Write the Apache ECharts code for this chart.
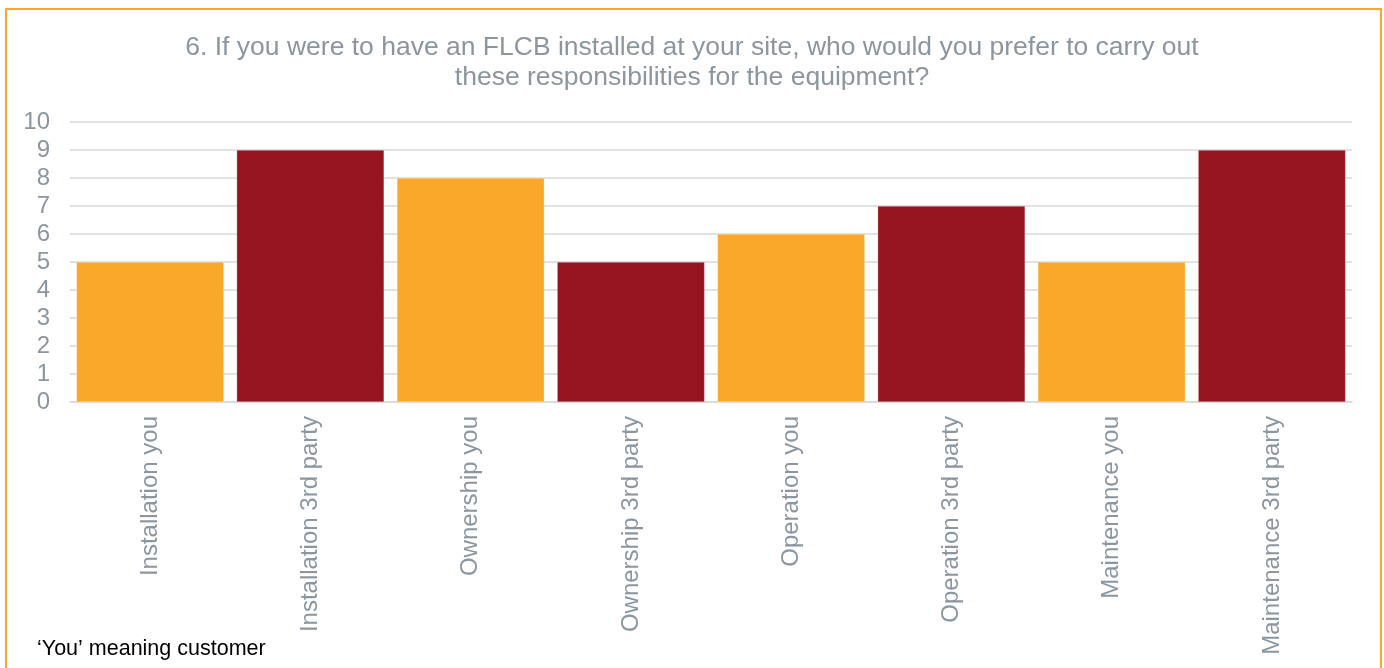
<!DOCTYPE html>
<html>
<head>
<meta charset="utf-8">
<script src="https://cdn.jsdelivr.net/npm/echarts@6/dist/echarts.min.js"></script>
<style>
  html, body { margin: 0; padding: 0; background: #fff; }
  #frame { position: absolute; left: 5px; top: 8px; width: 1377px; height: 680px;
           border: 2px solid #F9A82A; box-sizing: border-box; }
  #chart { position: absolute; left: 0; top: 0; width: 1384px; height: 668px; }
</style>
</head>
<body>
<div id="frame"></div>
<div id="chart"></div>
<script>
const categories = [
  'Installation you', 'Installation 3rd party',
  'Ownership you', 'Ownership 3rd party',
  'Operation you', 'Operation 3rd party',
  'Maintenance you', 'Maintenance 3rd party'
];
const counts = [5, 9, 8, 5, 6, 7, 5, 9];
const barColors = ['#F9A82A', '#95141F'];
const yTicks = [0, 1, 2, 3, 4, 5, 6, 7, 8, 9, 10];

const chart = echarts.init(document.getElementById('chart'), null, { renderer: 'canvas' });
const textGrey = '#8A96A0';
const font = 'Liberation Sans, Arial, sans-serif';

chart.setOption({
  animation: false,
  title: {
    text: '6. If you were to have an FLCB installed at your site, who would you prefer to carry out\nthese responsibilities for the equipment?',
    left: 'center',
    top: 28,
    textStyle: { fontFamily: font, fontSize: 26.5, fontWeight: 'normal', color: textGrey, lineHeight: 30, align: 'center' }
  },
  graphic: [{
    type: 'text', left: 37, top: 638,
    style: { text: '\u2018You\u2019 meaning customer', font: '21.5px ' + font, fill: '#000' }
  }],
  grid: { left: 70, right: 32, top: 122, bottom: 266, containLabel: false },
  xAxis: {
    type: 'category',
    data: categories,
    axisLine: { lineStyle: { color: '#D9D9D9', width: 1.5 } },
    axisTick: { show: false },
    axisLabel: { rotate: 90, margin: 14, fontFamily: font, fontSize: 24, color: textGrey }
  },
  yAxis: {
    type: 'value',
    min: yTicks[0], max: yTicks[yTicks.length - 1], interval: 1,
    axisLine: { show: false },
    axisTick: { show: false },
    axisLabel: { margin: 20, fontFamily: font, fontSize: 24, color: textGrey },
    splitLine: { lineStyle: { color: '#D9D9D9', width: 1.5 } }
  },
  series: [{
    type: 'bar',
    data: counts.map((v, i) => ({ value: v, itemStyle: { color: barColors[i % 2] } })),
    barCategoryGap: '8%',
    itemStyle: { borderColor: 'rgba(255,255,255,0.5)', borderWidth: 0.5 }
  }]
});
</script>
</body>
</html>
